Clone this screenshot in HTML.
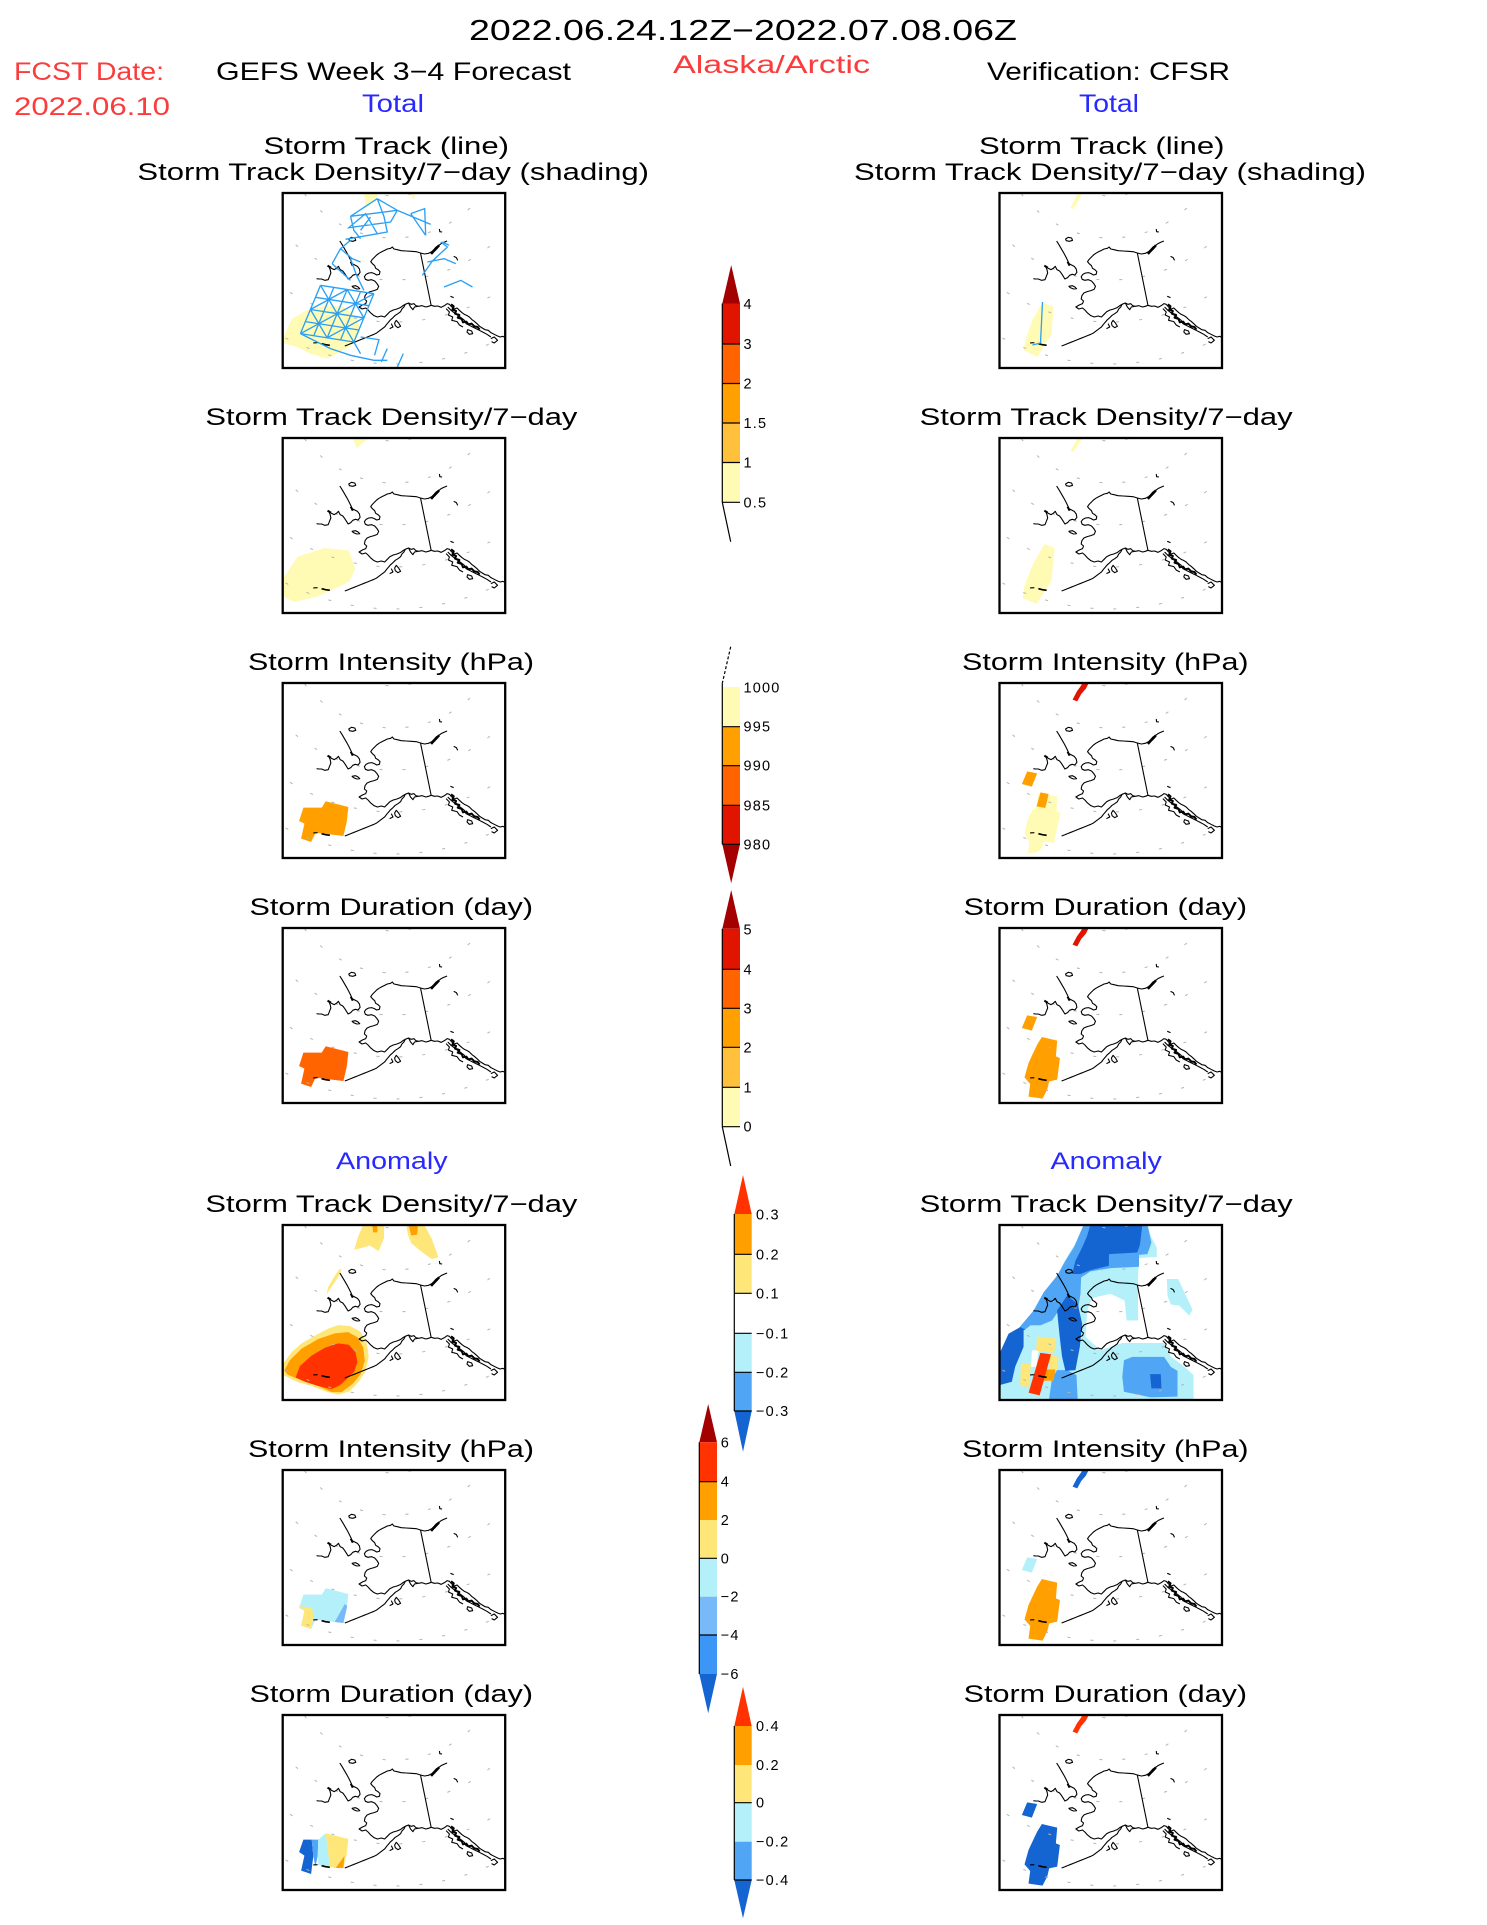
<!DOCTYPE html>
<html><head><meta charset="utf-8">
<style>
html,body{margin:0;padding:0;background:#fff;}
svg{display:block;}
text{font-family:"Liberation Sans",sans-serif;}
.cb text{font-size:14.5px;letter-spacing:1.2px;}
</style></head>
<body>
<svg width="1487" height="1925" viewBox="0 0 1487 1925" xmlns="http://www.w3.org/2000/svg" xmlns:xlink="http://www.w3.org/1999/xlink">
<defs>
<clipPath id="mc"><rect x="0" y="0" width="222.5" height="175"/></clipPath>
<g id="grid" fill="none" stroke="#b4b4b4" stroke-width="1" stroke-dasharray="3 20">
<circle cx="111" cy="-67" r="238"/><circle cx="111" cy="-67" r="196"/><circle cx="111" cy="-67" r="154"/><circle cx="111" cy="-67" r="112"/><circle cx="111" cy="-67" r="70"/>
</g>
<g id="coast" fill="none" stroke="#000" stroke-width="3.3" stroke-linejoin="round" transform="scale(0.3321,0.3333) translate(-13,-38)">
<path d="M428,218 L415,214 L400,213 L385,212 L370,211 L358,208 L348,206 L343,200 L338,204 L328,206 L320,210 L312,214 L303,219 L296,224 L290,230 L283,237 L278,244 L283,250 L290,256 L293,264 L300,268 L306,274 L304,282 L296,284 L289,280 L281,277 L272,278 L264,282 L259,289 L262,297 L270,300 L280,298 L290,302 L297,310 L302,318 L298,327 L288,331 L277,334 L267,338 L261,346 L259,356 L266,362 L263,370 L253,374 L243,380 L252,386 L263,383 L270,389 L278,398 L288,406 L298,410 L310,407 L320,410 L328,402 L336,394 L346,389 L357,386 L367,382 L375,376 L382,372 L392,368 L400,372 L408,370 L414,376 L422,378 L432,376 L444,380 L452,378 L460,375"/>
<path d="M428,218 L460,375"/>
<path d="M428,218 L440,221 L452,219 L462,214 L468,208 L475,200 L482,196 L490,190 L498,186 L508,182"/>
<path d="M460,221 L468,212 L476,204 L484,195" stroke-width="7"/>
<path d="M460,375 L470,378 L480,377 L490,381 L500,376 L508,370 L515,372 L522,380 L530,386 L538,383 L545,390 L553,397 L560,402 L567,405 L575,410 L583,418 L590,423 L598,430 L606,438 L614,443 L622,448 L632,450 L640,457 L650,462 L660,467 L668,470 L676,468 L683,472"/>
<path d="M510,380 L520,390 L530,398 L540,405 L550,412 L560,420 L565,430 L575,435 L585,440 L595,445 L605,450 L615,455 L628,462 L640,470"/>
<path d="M520,372 L528,378 L524,388 L535,392 L532,400 L545,404 L540,412 L552,416 L556,426 L566,424 L572,432 L582,430 L590,438 L600,440 L606,448" stroke-width="6"/>
<path d="M505,385 L515,395 L512,404 L525,410 L522,420 L538,424 L545,434 L556,440" stroke-width="3.3"/>
<path d="M570,448 L582,452 L585,460 L575,462 L568,455 Z"/>
<path d="M640,475 L650,470 L660,480 L650,488 L642,484"/>
<path d="M382,372 L378,380 L372,386 L368,394 L360,400 L352,405 L345,412 L338,418 L332,425 L326,432 L320,440 L312,446 L304,452 L296,458 L288,462 L278,466 L268,470 L258,474 L248,478 L238,482 L228,486 L218,490 L208,494 L200,497"/>
<path d="M392,368 L398,380 L405,388 L410,380 L420,378"/>
<path d="M355,420 L362,428 L368,438 L360,442 L352,436 L350,428 Z"/>
<path d="M340,430 L345,440 L335,445"/>
<path d="M105,488 L118,487"/>
<path d="M130,490 L142,493 L155,495" stroke-width="5"/>
<path d="M185,182 L192,193 L199,205 L206,217 L212,228 L218,240 L222,250 L230,254 L238,258 L244,266 L246,276 L240,284 L232,282 L224,285 L218,292 L210,296 L205,288 L200,280 L194,272 L186,268 L181,258 L175,264 L168,268 L160,264 L152,258 L156,268 L158,278 L154,288 L150,298 L140,300 L130,296 L122,296 L115,295"/>
<path d="M218,244 L224,256" stroke-width="6"/>
<path d="M148,256 L158,262" stroke-width="6"/>
<path d="M222,318 L232,316 L240,320 L245,325 L236,326 L226,322 Z"/>
<path d="M212,176 L220,171 L230,173 L233,180 L224,183 L214,181 Z"/>
<path d="M485,146 L486,154 L493,155"/>
<path d="M528,228 L536,232 L540,240"/>
<path d="M518,348 L528,352"/>
</g>
</defs>

<!-- Header -->
<text x="469" y="40" font-size="29" textLength="548" lengthAdjust="spacingAndGlyphs">2022.06.24.12Z−2022.07.08.06Z</text>
<text x="14" y="80" font-size="25" fill="#fa3c3c" textLength="150" lengthAdjust="spacingAndGlyphs">FCST Date:</text>
<text x="216" y="80" font-size="25" textLength="355" lengthAdjust="spacingAndGlyphs">GEFS Week 3−4 Forecast</text>
<text x="673" y="73" font-size="25" fill="#fa3c3c" textLength="197" lengthAdjust="spacingAndGlyphs">Alaska/Arctic</text>
<text x="987" y="80" font-size="25" textLength="243" lengthAdjust="spacingAndGlyphs">Verification: CFSR</text>
<text x="14" y="115" font-size="25" fill="#fa3c3c" textLength="156" lengthAdjust="spacingAndGlyphs">2022.06.10</text>
<text x="362" y="112" font-size="25" fill="#2828ff" textLength="62" lengthAdjust="spacingAndGlyphs">Total</text>
<text x="1079" y="112" font-size="25" fill="#2828ff" textLength="60" lengthAdjust="spacingAndGlyphs">Total</text>

<!-- Row titles -->
<g font-size="24">
<text x="263.5" y="154" textLength="245.5" lengthAdjust="spacingAndGlyphs">Storm Track (line)</text>
<text x="979" y="154" textLength="245.5" lengthAdjust="spacingAndGlyphs">Storm Track (line)</text>
<text x="137.4" y="180" textLength="511.6" lengthAdjust="spacingAndGlyphs">Storm Track Density/7−day (shading)</text>
<text x="854" y="180" textLength="512" lengthAdjust="spacingAndGlyphs">Storm Track Density/7−day (shading)</text>

<text x="205.4" y="425" textLength="372" lengthAdjust="spacingAndGlyphs">Storm Track Density/7−day</text>
<text x="919.6" y="425" textLength="373" lengthAdjust="spacingAndGlyphs">Storm Track Density/7−day</text>
<text x="248" y="670" textLength="286" lengthAdjust="spacingAndGlyphs">Storm Intensity (hPa)</text>
<text x="962" y="670" textLength="286.6" lengthAdjust="spacingAndGlyphs">Storm Intensity (hPa)</text>
<text x="249.5" y="915" textLength="283.5" lengthAdjust="spacingAndGlyphs">Storm Duration (day)</text>
<text x="963.6" y="915" textLength="283.5" lengthAdjust="spacingAndGlyphs">Storm Duration (day)</text>

<text x="336" y="1169" textLength="111.6" lengthAdjust="spacingAndGlyphs" fill="#2828ff">Anomaly</text>
<text x="1050.5" y="1169" textLength="111.3" lengthAdjust="spacingAndGlyphs" fill="#2828ff">Anomaly</text>

<text x="205.4" y="1212" textLength="372" lengthAdjust="spacingAndGlyphs">Storm Track Density/7−day</text>
<text x="919.6" y="1212" textLength="373" lengthAdjust="spacingAndGlyphs">Storm Track Density/7−day</text>
<text x="248" y="1457" textLength="286" lengthAdjust="spacingAndGlyphs">Storm Intensity (hPa)</text>
<text x="962" y="1457" textLength="286.6" lengthAdjust="spacingAndGlyphs">Storm Intensity (hPa)</text>
<text x="249.5" y="1702" textLength="283.5" lengthAdjust="spacingAndGlyphs">Storm Duration (day)</text>
<text x="963.6" y="1702" textLength="283.5" lengthAdjust="spacingAndGlyphs">Storm Duration (day)</text>
</g>

<!-- ============ MAPS ============ -->
<!-- Row1 Left -->
<g transform="translate(282.7,193)">
 <g clip-path="url(#mc)">
  <polygon fill="#fffab4" points="0,140 1,144 9.4,125.6 24.4,117.3 44.4,112.3 61,114 74.4,124 77.7,137.3 71,150.6 54.4,160.6 44.4,165.6 27.7,160.6 14.4,154 0,150"/>
  <g transform="scale(0.3341,0.3333) translate(-97,-38)">
   <polygon fill="#fffab4" points="340,38 382,38 378,50 352,80 345,72"/>
   <polygon fill="#fffab4" points="478,38 496,38 488,58"/>
  </g>
  <use href="#grid"/><use href="#coast"/>
  <g transform="scale(0.3341,0.3333) translate(-97,-38)" fill="none" stroke="#2aa0f5" stroke-width="4">
   <path d="M210,315 L150,460 M250,321 L190,466 M290,327.5 L230,472.5 M330,334 L270,479 M370,340 L310,485 M210,315 L370,340 M195,351 L355,376 M180,387.5 L340,412.5 M165,424 L325,449 M150,460 L310,485 M210,315 L310,485 M370,340 L150,460 M180,387.5 L290,327.5 M230,472.5 L340,412.5 M180,387.5 L230,472.5 M290,327.5 L340,412.5 M150,460 L240,505 L300,525 L370,540 L410,540 M330,470 L385,478 L372,525 M410,505 L392,545 M458,520 L440,560 M310,485 L330,520 M380,55 L440,90 M380,55 L300,108 L440,90 M440,90 L420,125 L295,142 L345,100 L380,160 M380,55 L400,108 L410,155 L285,177 M330,150 L360,110 M300,108 L310,150 L330,175 M480,100 L522,85 L525,165 M440,90 L540,132 M480,100 L525,165 M300,180 L270,205 L245,250 M270,205 L305,235 L330,245 M245,250 L300,300 M300,235 L318,285 L340,330 M515,285 L545,242 L590,200 L570,185 M530,245 L580,235 L615,250 M575,185 L595,195 M580,320 L630,300 L665,320"/>
  </g>
 </g>
 <rect x="0" y="0" width="222.5" height="175" fill="none" stroke="#000" stroke-width="2.3"/>
</g>

<!-- Row1 Right -->
<g transform="translate(999.5,193)">
 <g clip-path="url(#mc)">
  <polygon fill="#fffab4" points="24,157 38,164 52,141 54,114 43,109 33,127 26,147"/>
  <polygon fill="#fffab4" points="78,0 83,0 74,16 71,15"/>
  <use href="#grid"/><use href="#coast"/>
  <path d="M43,109 L41,150 L33,152" fill="none" stroke="#2aa0f5" stroke-width="1.3"/>
 </g>
 <rect x="0" y="0" width="222.5" height="175" fill="none" stroke="#000" stroke-width="2.3"/>
</g>

<!-- Row2 Left -->
<g transform="translate(282.7,438)">
 <g clip-path="url(#mc)">
  <polygon fill="#fffab4" points="0,138 2.7,137 15,118.6 41.8,110 66.3,112.6 72.4,131 67,143 60,147 33.3,159 11.3,164 0,158"/>
  <polygon fill="#fffab4" points="70,0 86,0 74,10"/>
  <use href="#grid"/><use href="#coast"/>
 </g>
 <rect x="0" y="0" width="222.5" height="175" fill="none" stroke="#000" stroke-width="2.3"/>
</g>

<!-- Row2 Right -->
<g transform="translate(999.5,438)">
 <g clip-path="url(#mc)">
  <polygon fill="#fffab4" points="23,160 37,166 52,143 55,110 45,106 33,127 25,148"/>
  <polygon fill="#fffab4" points="78,0 83,0 74,14 71,13"/>
  <use href="#grid"/><use href="#coast"/>
 </g>
 <rect x="0" y="0" width="222.5" height="175" fill="none" stroke="#000" stroke-width="2.3"/>
</g>

<!-- Row3 Left -->
<g transform="translate(282.7,683)">
 <g clip-path="url(#mc)">
  <polygon fill="#ffa000" points="20.7,124.6 39,124.6 43,118.3 65.7,124 64,139 60.7,153 35.7,150 32.4,150.6 28.4,159 18.4,155.6 21.7,140.6 16.4,138"/>
  <use href="#grid"/><use href="#coast"/>
 </g>
 <rect x="0" y="0" width="222.5" height="175" fill="none" stroke="#000" stroke-width="2.3"/>
</g>

<!-- Row3 Right -->
<g transform="translate(999.5,683)">
 <g clip-path="url(#mc)">
  <g transform="scale(0.3336,0.3333) translate(-13,-15)">
   <polygon fill="#e11400" points="232,65 245,40 258,22 262,12 282,12 272,32 258,48 246,70"/>
   <polygon fill="#ffa000" points="80,318 96,280 126,286 110,326"/>
   <polygon fill="#fffab4" points="130,345 158,350 186,356 184,400 196,405 186,448 176,495 146,490 140,508 128,522 98,526 103,492 88,466 98,422 112,396 124,385"/>
   <polygon fill="#ffa000" points="124,385 136,343 160,348 156,368 150,390"/>
  </g>
  <use href="#grid"/><use href="#coast"/>
 </g>
 <rect x="0" y="0" width="222.5" height="175" fill="none" stroke="#000" stroke-width="2.3"/>
</g>

<!-- Row4 Left -->
<g transform="translate(282.7,928)">
 <g clip-path="url(#mc)">
  <polygon fill="#ff6400" points="20.7,124.6 39,124.6 43,118.3 65.7,124 64,139 60.7,153 35.7,150 32.4,150.6 28.4,159 18.4,155.6 21.7,140.6 16.4,138"/>
  <use href="#grid"/><use href="#coast"/>
 </g>
 <rect x="0" y="0" width="222.5" height="175" fill="none" stroke="#000" stroke-width="2.3"/>
</g>

<!-- Row4 Right -->
<g transform="translate(999.5,928)">
 <g clip-path="url(#mc)">
  <g transform="scale(0.3336,0.3333) translate(-13,-750)">
   <polygon fill="#e11400" points="232,800 245,775 258,757 262,747 282,747 272,767 258,783 246,805"/>
   <polygon fill="#ffa000" points="80,1050 96,1012 126,1017 110,1058"/>
   <polygon fill="#ffa000" points="140,1077 186,1088 182,1135 194,1140 186,1205 162,1210 156,1235 142,1262 100,1256 105,1218 88,1198 100,1155 114,1125 126,1100"/>
  </g>
  <use href="#grid"/><use href="#coast"/>
 </g>
 <rect x="0" y="0" width="222.5" height="175" fill="none" stroke="#000" stroke-width="2.3"/>
</g>

<!-- Row5 Left -->
<g transform="translate(282.7,1225)">
 <g clip-path="url(#mc)">
  <g transform="scale(0.3321,0.4353) translate(-13,-18)">
   <polygon fill="#ffe678" points="13,338 40,310 70,290 110,272 150,256 180,248 215,250 245,262 265,285 272,320 262,355 240,380 215,400 180,408 140,400 100,388 55,378 13,362"/>
   <polygon fill="#ffa000" points="18,352 35,328 70,302 120,280 170,267 210,264 238,276 256,300 260,330 248,360 225,382 190,402 160,402 120,388 70,375 28,362"/>
   <polygon fill="#ff3200" points="52,368 65,342 100,318 140,300 180,290 212,293 232,310 238,333 228,355 208,370 185,386 160,395 120,388 80,378"/>
   <polygon fill="#ffe678" points="228,75 240,45 255,18 318,18 318,48 302,78 275,65 255,70"/>
   <polygon fill="#ffa000" points="283,18 298,18 298,35 285,35"/>
   <polygon fill="#ffe678" points="385,18 440,18 462,50 482,92 462,96 432,80 400,60 390,40"/>
   <polygon fill="#ffa000" points="393,20 420,20 418,40 400,42"/>
   <polygon fill="#ffe678" points="145,178 160,160 178,140 190,122 185,118 170,135 150,160"/>
  </g>
  <use href="#grid"/><use href="#coast"/>
 </g>
 <rect x="0" y="0" width="222.5" height="175" fill="none" stroke="#000" stroke-width="2.3"/>
</g>

<!-- Row5 Right -->
<g transform="translate(999.5,1225)">
 <g clip-path="url(#mc)">
  <g transform="scale(0.3346,0.3314) translate(-28,-42)">
   <polygon fill="#b4f0fa" points="28,575 28,500 60,440 95,380 120,335 150,290 175,245 200,200 215,165 240,120 265,85 285,40 470,40 480,75 498,110 498,138 445,142 442,198 442,330 408,330 402,270 360,250 305,262 290,300 285,380 330,420 395,398 520,398 540,440 575,465 608,495 608,575"/>
   <polygon fill="#b4f0fa" points="528,205 562,205 605,298 595,315 565,285 540,282 530,255"/>
   <polygon fill="#50a5f5" points="280,40 470,40 482,95 470,130 445,132 445,168 360,172 300,182 272,200 270,250 262,300 240,262 205,300 185,330 150,345 120,345 100,362 70,410 50,460 28,505 28,430 60,385 95,342 130,300 160,245 200,195 225,150 250,110"/>
   <polygon fill="#50a5f5" points="175,575 185,505 200,480 230,480 258,495 262,575"/>
   <polygon fill="#50a5f5" points="400,450 425,440 520,440 540,470 560,482 560,560 480,562 400,545 395,500"/>
   <polygon fill="#1464d2" points="300,40 455,40 448,100 440,125 355,130 355,165 300,178 270,190 245,190 255,150 275,110 290,75"/>
   <polygon fill="#1464d2" points="28,430 55,370 90,350 110,360 100,410 75,470 65,515 28,525"/>
   <polygon fill="#1464d2" points="200,300 230,255 262,280 275,340 268,410 255,480 225,482 215,440 208,380"/>
   <polygon fill="#1464d2" points="478,492 510,492 512,535 482,535"/>
   <polygon fill="#b4f0fa" points="100,360 130,345 150,345 140,380 120,420 95,460 80,520 65,515 75,470 100,410"/>
   <polygon fill="#ffffff" points="125,420 145,420 138,470 122,470"/>
   <polygon fill="#ffe678" points="140,378 195,385 192,428 138,422"/>
   <polygon fill="#ffe678" points="92,460 122,462 115,530 90,528"/>
   <polygon fill="#ffe678" points="178,435 205,440 200,478 178,478"/>
   <polygon fill="#ffa000" points="160,478 195,478 190,512 160,512"/>
   <polygon fill="#ff3200" points="115,548 150,428 182,432 148,556"/>
  </g>
  <use href="#grid"/><use href="#coast"/>
 </g>
 <rect x="0" y="0" width="222.5" height="175" fill="none" stroke="#000" stroke-width="2.3"/>
</g>

<!-- Row6 Left -->
<g transform="translate(282.7,1470)">
 <g clip-path="url(#mc)">
  <polygon fill="#b4f0fa" points="20.7,124.6 39,124.6 43,118.3 65.7,124 64,139 60.7,153 35.7,150 32.4,150.6 28.4,159 18.4,155.6 21.7,140.6 16.4,138"/>
  <polygon fill="#ffe678" points="16.4,136 29,137.5 31,146 28.4,159 18.4,155.6 21.7,140.6"/>
  <polygon fill="#78b9fa" points="52,152 62,134 64.5,136 60.7,153"/>
  <use href="#grid"/><use href="#coast"/>
 </g>
 <rect x="0" y="0" width="222.5" height="175" fill="none" stroke="#000" stroke-width="2.3"/>
</g>

<!-- Row6 Right -->
<g transform="translate(999.5,1470)">
 <g clip-path="url(#mc)">
  <g transform="scale(0.3336,0.3333) translate(-13,-750)">
   <polygon fill="#1464d2" points="232,800 245,775 258,757 262,747 282,747 272,767 258,783 246,805"/>
   <polygon fill="#b4f0fa" points="80,1050 96,1012 126,1017 110,1058"/>
   <polygon fill="#ffa000" points="140,1077 186,1088 182,1135 194,1140 186,1205 162,1210 156,1235 142,1262 100,1256 105,1218 88,1198 100,1155 114,1125 126,1100"/>
  </g>
  <use href="#grid"/><use href="#coast"/>
 </g>
 <rect x="0" y="0" width="222.5" height="175" fill="none" stroke="#000" stroke-width="2.3"/>
</g>

<!-- Row7 Left -->
<g transform="translate(282.7,1715)">
 <g clip-path="url(#mc)">
  <polygon fill="#1464d2" points="16.4,137 20.7,124.6 29,124.6 30.6,141 28.4,159 18.4,155.6 21.7,140.6"/>
  <polygon fill="#50a5f5" points="29,124.6 35.6,124.6 35,141 33,150.6 32.4,150.6 30.6,141"/>
  <polygon fill="#b4f0fa" points="35.6,124.6 43,118.3 46,141 47,152 35.7,150 35,141"/>
  <polygon fill="#ffe678" points="43,118.3 65.7,124 64,139 60.7,153 54,153 47,152 46,141"/>
  <polygon fill="#ffa000" points="53,153 61.7,141 60.7,153"/>
  <use href="#grid"/><use href="#coast"/>
 </g>
 <rect x="0" y="0" width="222.5" height="175" fill="none" stroke="#000" stroke-width="2.3"/>
</g>

<!-- Row7 Right -->
<g transform="translate(999.5,1715)">
 <g clip-path="url(#mc)">
  <g transform="scale(0.3336,0.3333) translate(-13,-750)">
   <polygon fill="#ff3200" points="232,800 245,775 258,757 262,747 282,747 272,767 258,783 246,805"/>
   <polygon fill="#1464d2" points="80,1050 96,1012 126,1017 110,1058"/>
   <polygon fill="#1464d2" points="140,1077 186,1088 182,1135 194,1140 186,1205 162,1210 156,1235 142,1262 100,1256 105,1218 88,1198 100,1155 114,1125 126,1100"/>
  </g>
  <use href="#grid"/><use href="#coast"/>
 </g>
 <rect x="0" y="0" width="222.5" height="175" fill="none" stroke="#000" stroke-width="2.3"/>
</g>

<!-- ============ COLORBARS ============ -->
<g class="cb">
<!-- CB1 density -->
<polygon points="722.3,303.5 731.2,265 740,303.5" fill="#a50000"/>
<rect x="722.3" y="303.5" width="17.7" height="40.5" fill="#e11400"/>
<rect x="722.3" y="344" width="17.7" height="39.5" fill="#ff6400"/>
<rect x="722.3" y="383.5" width="17.7" height="39.5" fill="#ffa000"/>
<rect x="722.3" y="423" width="17.7" height="39.5" fill="#ffc03c"/>
<rect x="722.3" y="462.5" width="17.7" height="39.8" fill="#fffab4"/>
<path d="M722.3,303.5 V502.3 M722.3,344 H740 M722.3,383.5 H740 M722.3,423 H740 M722.3,462.5 H740 M722.3,502.3 H740 M722.3,502.3 L730.7,541.7" stroke="#000" stroke-width="1.2" fill="none"/>
<text x="743.5" y="309">4</text><text x="743.5" y="349">3</text><text x="743.5" y="388.5">2</text><text x="743.5" y="428">1.5</text><text x="743.5" y="467.5">1</text><text x="743.5" y="507.3">0.5</text>

<!-- CB2 intensity -->
<path d="M730.7,646.7 L722.3,683.3" stroke="#000" stroke-width="1.2" stroke-dasharray="3 2" fill="none"/>
<rect x="722.3" y="687" width="17.7" height="39.7" fill="#fffab4"/>
<rect x="722.3" y="726.7" width="17.7" height="39" fill="#ffa000"/>
<rect x="722.3" y="765.7" width="17.7" height="39.6" fill="#ff6400"/>
<rect x="722.3" y="805.3" width="17.7" height="39" fill="#e11400"/>
<polygon points="722.3,844.3 740,844.3 731.2,883.3" fill="#a50000"/>
<path d="M722.3,683.3 V844.3 M722.3,726.7 H740 M722.3,765.7 H740 M722.3,805.3 H740 M722.3,844.3 H740" stroke="#000" stroke-width="1.2" fill="none"/>
<text x="743.5" y="692.3">1000</text><text x="743.5" y="731.7">995</text><text x="743.5" y="770.7">990</text><text x="743.5" y="810.3">985</text><text x="743.5" y="849.3">980</text>

<!-- CB3 duration -->
<polygon points="722.3,928.8 731.2,890 740,928.8" fill="#a50000"/>
<rect x="722.3" y="928.8" width="17.7" height="40.5" fill="#e11400"/>
<rect x="722.3" y="969.3" width="17.7" height="39" fill="#ff6400"/>
<rect x="722.3" y="1008.3" width="17.7" height="39" fill="#ffa000"/>
<rect x="722.3" y="1047.3" width="17.7" height="40" fill="#ffc03c"/>
<rect x="722.3" y="1087.3" width="17.7" height="39.4" fill="#fffab4"/>
<path d="M722.3,928.8 V1126.7 M722.3,969.3 H740 M722.3,1008.3 H740 M722.3,1047.3 H740 M722.3,1087.3 H740 M722.3,1126.7 H740 M722.3,1126.7 L730.7,1166" stroke="#000" stroke-width="1.2" fill="none"/>
<text x="743.5" y="934.3">5</text><text x="743.5" y="974.3">4</text><text x="743.5" y="1013.3">3</text><text x="743.5" y="1052.3">2</text><text x="743.5" y="1092.3">1</text><text x="743.5" y="1131.7">0</text>

<!-- CB4 density anomaly -->
<polygon points="734.3,1214 743,1175 751.7,1214" fill="#ff3200"/>
<rect x="734.3" y="1214" width="17.4" height="40.3" fill="#ffa000"/>
<rect x="734.3" y="1254.3" width="17.4" height="39" fill="#ffe678"/>
<rect x="734.3" y="1333.3" width="17.4" height="39" fill="#b4f0fa"/>
<rect x="734.3" y="1372.3" width="17.4" height="38.7" fill="#50a5f5"/>
<polygon points="734.3,1411 751.7,1411 743,1451.7" fill="#1464d2"/>
<path d="M734.3,1214 V1411 M734.3,1254.3 H751.7 M734.3,1293.3 H751.7 M734.3,1333.3 H751.7 M734.3,1372.3 H751.7 M734.3,1411 H751.7" stroke="#000" stroke-width="1.2" fill="none"/>
<text x="756" y="1219.3">0.3</text><text x="756" y="1259.3">0.2</text><text x="756" y="1298.3">0.1</text><text x="756" y="1338.3">−0.1</text><text x="756" y="1377.3">−0.2</text><text x="756" y="1416">−0.3</text>

<!-- CB5 intensity anomaly -->
<polygon points="699.3,1442.3 708.2,1404 717,1442.3" fill="#a50000"/>
<rect x="699.3" y="1442.3" width="17.7" height="39.4" fill="#ff3200"/>
<rect x="699.3" y="1481.7" width="17.7" height="38.3" fill="#ffa000"/>
<rect x="699.3" y="1520" width="17.7" height="38.3" fill="#ffe678"/>
<rect x="699.3" y="1558.3" width="17.7" height="38.4" fill="#b4f0fa"/>
<rect x="699.3" y="1596.7" width="17.7" height="38.3" fill="#78b9fa"/>
<rect x="699.3" y="1635" width="17.7" height="39" fill="#3c96f5"/>
<polygon points="699.3,1674 717,1674 708.2,1713.3" fill="#1464d2"/>
<path d="M699.3,1442.3 V1674 M699.3,1481.7 H717 M699.3,1558.3 H717 M699.3,1635 H717" stroke="#000" stroke-width="1.2" fill="none"/>
<text x="720.7" y="1447.3">6</text><text x="720.7" y="1486.7">4</text><text x="720.7" y="1525">2</text><text x="720.7" y="1563.3">0</text><text x="720.7" y="1601.7">−2</text><text x="720.7" y="1640">−4</text><text x="720.7" y="1679">−6</text>

<!-- CB6 duration anomaly -->
<polygon points="734.3,1726 743,1686.7 751.7,1726" fill="#ff3200"/>
<rect x="734.3" y="1726" width="17.4" height="39" fill="#ffa000"/>
<rect x="734.3" y="1765" width="17.4" height="37.7" fill="#ffe678"/>
<rect x="734.3" y="1802.7" width="17.4" height="39" fill="#b4f0fa"/>
<rect x="734.3" y="1841.7" width="17.4" height="38.3" fill="#50a5f5"/>
<polygon points="734.3,1880 751.7,1880 743,1918.3" fill="#1464d2"/>
<path d="M734.3,1726 V1880 M734.3,1802.7 H751.7 M734.3,1880 H751.7" stroke="#000" stroke-width="1.2" fill="none"/>
<text x="756" y="1731">0.4</text><text x="756" y="1770">0.2</text><text x="756" y="1807.7">0</text><text x="756" y="1846.7">−0.2</text><text x="756" y="1885">−0.4</text>
</g>
</svg>
</body></html>
